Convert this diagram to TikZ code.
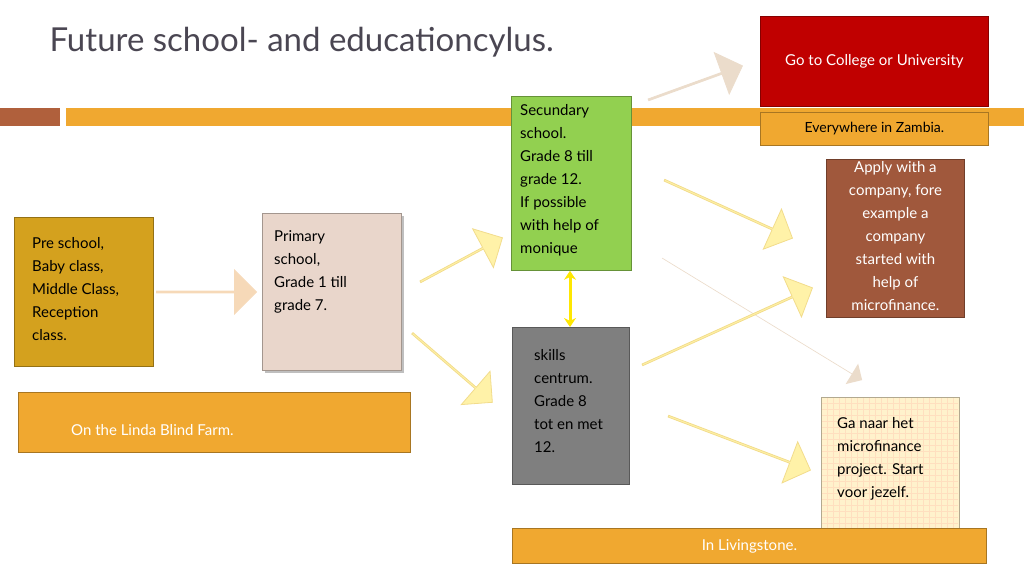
\documentclass[tikz,border=0pt]{standalone}
\usepackage{fontspec}
\setmainfont{Lato}
\usepackage{tikz}
\usetikzlibrary{arrows.meta, shapes.arrows, positioning, calc}

\definecolor{barorange}{HTML}{F0A830}
\definecolor{barbrown}{HTML}{B0603C}
\definecolor{titlegray}{HTML}{4A4652}
\definecolor{collegered}{HTML}{C00000}
\definecolor{greenbox}{HTML}{92D050}
\definecolor{goldbox}{HTML}{D4A11E}
\definecolor{pinkbox}{HTML}{E9D6CB}
\definecolor{graybox}{HTML}{7F7F7F}
\definecolor{brownbox}{HTML}{A0583C}
\definecolor{creambox}{HTML}{FFF2CC}
\definecolor{arrowyellow}{HTML}{FFF2A8}
\definecolor{arrowedge}{HTML}{F2DC8C}
\definecolor{arrowbeige}{HTML}{EBDCCB}
\definecolor{arrowpeach}{HTML}{F6D9B8}

\tikzset{
  box/.style={draw=#1!70!black, line width=0.8pt, anchor=north west, inner sep=0pt},
  boxtext/.style={anchor=north west, align=left, inner sep=0pt, font=\fontsize{15}{23}\selectfont},
  bartext/.style={font=\fontsize{15}{18}\selectfont},
  bigarrow/.style={single arrow, draw=#1, line width=0.8pt, single arrow head extend=9pt,
    minimum width=44pt, inner sep=0pt, shape border uses incircle=false},
}

% block arrow between two named coordinates
\newcommand{\blockarrow}[4][arrowedge]{%
  \path let \p1=(#2), \p2=(#3), \n1={atan2(\y2-\y1,\x2-\x1)}, \n2={veclen(\x2-\x1,\y2-\y1)} in
    node[bigarrow=#1, fill=#4, rotate=\n1, minimum height=\n2] at ($(#2)!0.5!(#3)$) {};}

\begin{document}
\begin{tikzpicture}[x=1pt, y=-1pt]
\useasboundingbox (0,0) rectangle (1024,576);

% title and bars
\node[anchor=west, text=titlegray, font=\fontsize{33}{36}\selectfont] (title) at (46,42) {Future school- and educationcylus.};
\fill[barbrown] (0,108) rectangle (60,126);
\fill[barorange] (66,108) rectangle (1024,126);

% boxes
\node[box=collegered, fill=collegered, minimum width=228pt, minimum height=90pt] (college) at (760,16) {};
\node[text=white, bartext] at (college.center) {Go to College or University};
\node[box=barorange, fill=barorange, minimum width=228pt, minimum height=33pt] (zambia) at (760,112) {};
\node[bartext, font=\fontsize{14}{18}\selectfont] at (zambia.center) {Everywhere in Zambia.};

\node[box=greenbox, fill=greenbox, minimum width=120pt, minimum height=174pt] (secundary) at (511,96) {};
\node[boxtext] at ([xshift=9pt, yshift=-8pt]secundary.north west) {Secundary\\school.\\Grade 8 till\\grade 12.\\If possible\\with help of\\monique};

\node[box=goldbox, fill=goldbox, minimum width=139pt, minimum height=149pt] (pre) at (14,217) {};
\node[boxtext] at ([xshift=18pt, yshift=-20pt]pre.north west) {Pre school,\\Baby class,\\Middle Class,\\Reception\\class.};

\fill[black!25] (265,216) rectangle (404,373);
\node[box=pinkbox, fill=pinkbox, minimum width=139pt, minimum height=157pt] (primary) at (262,213) {};
\node[boxtext] at ([xshift=12pt, yshift=-17pt]primary.north west) {Primary\\school,\\Grade 1 till\\grade 7.};

\node[box=barorange, fill=barorange, minimum width=392pt, minimum height=60pt] (linda) at (18,392) {};
\node[bartext, text=white] at ([xshift=-62pt, yshift=-8pt]linda.center) {On the Linda Blind Farm.};

\node[box=graybox, fill=graybox, minimum width=117pt, minimum height=157pt] (skills) at (512,327) {};
\node[boxtext] at ([xshift=22pt, yshift=-22pt]skills.north west) {skills\\centrum.\\Grade 8\\tot en met\\12.};

\node[box=brownbox, fill=brownbox, minimum width=138pt, minimum height=158pt] (apply) at (826,159) {};
\node[boxtext, align=center, text=white, anchor=north] at ([yshift=-2pt]apply.north) {Apply with a\\company, fore\\example a\\company\\started with\\help of\\microfinance.};

\node[box=creambox, fill=creambox, minimum width=138pt, minimum height=133pt] (ganaar) at (821,397) {};
\foreach \gx in {827,833,...,955} \draw[orange!25, line width=0.3pt] (\gx,398) -- (\gx,529);
\foreach \gy in {403,409,...,527} \draw[orange!25, line width=0.3pt] (822,\gy) -- (958,\gy);
\node[boxtext] at ([xshift=16pt, yshift=-20pt]ganaar.north west) {Ga naar het\\microfinance\\project. Start\\voor jezelf.};

\node[box=barorange, fill=barorange, minimum width=474pt, minimum height=35pt] (livingstone) at (512,528) {};
\node[bartext, text=white] at (livingstone.center) {In Livingstone.};

% double arrow between secundary and skills
\draw[<->, >={Stealth[length=9pt, width=12pt]}, yellow!90!orange, line width=3pt] (secundary.south -| 570,0) -- (skills.north -| 570,0);

% block arrows
\coordinate (a1s) at (156,292); \coordinate (a1e) at (256,292);
\coordinate (a2s) at (420,282); \coordinate (a2e) at (502,238);
\coordinate (a3s) at (412,333); \coordinate (a3e) at (492,402);
\coordinate (a4s) at (648,100); \coordinate (a4e) at (742,66);
\coordinate (a5s) at (664,180); \coordinate (a5e) at (792,238);
\coordinate (a6s) at (642,365); \coordinate (a6e) at (812,288);
\coordinate (a7s) at (668,416); \coordinate (a7e) at (810,470);
\coordinate (a8s) at (662,258); \coordinate (a8e) at (862,380);
\blockarrow[arrowpeach]{a1s}{a1e}{arrowpeach}
\blockarrow{a2s}{a2e}{arrowyellow}
\blockarrow{a3s}{a3e}{arrowyellow}
\blockarrow[arrowbeige]{a4s}{a4e}{arrowbeige}
\blockarrow{a5s}{a5e}{arrowyellow}
\path let \p1=(a8s), \p2=(a8e), \n1={atan2(\y2-\y1,\x2-\x1)}, \n2={veclen(\x2-\x1,\y2-\y1)} in
  node[single arrow, fill=arrowbeige, single arrow head extend=7pt, minimum width=24pt, inner sep=0pt,
    shape border uses incircle=false, rotate=\n1, minimum height=\n2] at ($(a8s)!0.5!(a8e)$) {};
\blockarrow{a6s}{a6e}{arrowyellow}
\blockarrow{a7s}{a7e}{arrowyellow}
\end{tikzpicture}
\end{document}
